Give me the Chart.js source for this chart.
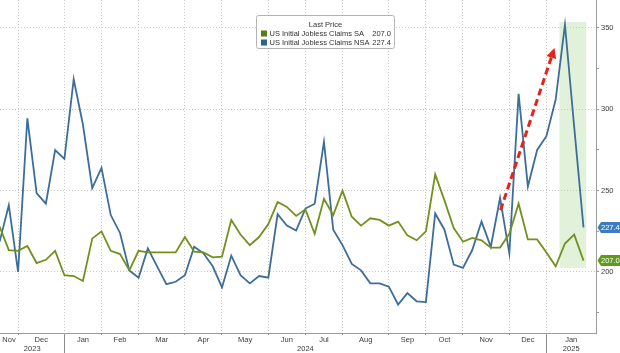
<!DOCTYPE html>
<html>
<head>
<meta charset="utf-8">
<script src="https://cdn.jsdelivr.net/npm/chart.js@4.4.0/dist/chart.umd.min.js"></script>
<style>
  html, body { margin: 0; padding: 0; background: #fff; }
  #wrap { width: 620px; height: 353px; position: relative; }
</style>
</head>
<body>
<div id="wrap"><canvas id="chart"></canvas></div>
<script>
// US initial jobless claims, thousands, weekly
// index 0 = week ending 2023-11-11, index 63 = week ending 2025-01-25
const saClaims = [
  228, 213.5, 213, 216, 205.5, 207.5, 213, 198, 197.5, 194.5,
  220.5, 225, 213, 211, 201, 213, 212, 212, 212, 212,
  221.5, 212.5, 212, 209, 209.5, 232, 223, 216.5, 221.5, 229.5,
  243, 240, 234.5, 238.5, 223.5, 245, 235, 250, 234, 228.5,
  233, 232, 228.5, 231, 222.5, 219.5, 225, 260, 244, 227,
  218.6, 221, 219.5, 215, 215, 223.5, 242, 220, 220, 212,
  203.5, 217.5, 223, 207.0
];
const nsaClaims = [
  218.5, 241, 200, 294.5, 248.5, 242, 275, 269.5, 318.5, 290.5,
  251.5, 264, 235, 224, 201, 196.5, 214.5, 203.5, 192.5, 194,
  198, 215.5, 211.5, 203.5, 190.5, 210, 198, 193, 197.5, 196.5,
  235.5, 228.5, 225.5, 239, 242, 280, 226, 216.5, 205, 201,
  193, 193, 191, 180, 187, 182, 181.5, 236, 226, 204.5,
  202.5, 213.5, 231, 215.5, 245.5, 211.5, 309.5, 252.5, 275, 283.5,
  306, 352, 289, 227.4
];

// first week plotted in each month (gridlines), and the month names between them
const monthTicks = [2, 7, 11, 15, 20, 24, 29, 33, 37, 42, 46, 50, 55, 59];
const monthLabels = ['Nov', 'Dec', 'Jan', 'Feb', 'Mar', 'Apr', 'May', 'Jun',
                     'Jul', 'Aug', 'Sep', 'Oct', 'Nov', 'Dec', 'Jan'];
const yearBreaks = [7, 59];
const yearLabels = ['2023', '2024', '2025'];

const yTicks = [175, 200, 225, 250, 275, 300, 325, 350];

// highlight box on the latest weeks and the arrow over the Dec-Jan climb
const shadeBox = { x1: 60.4, x2: 63.3, y1: 202.5, y2: 353.7 };
const arrowFrom = { x: 54.05, y: 238 };
const arrowTo = { x: 59.87, y: 337.7 };

const X_MIN = 0.05, X_MAX = 64.35;
const Y_MIN = 162.5, Y_MAX = 367.2;

const FONT = '"Liberation Sans", Arial, sans-serif';
const GREEN = '#72901e';
const BLUE = '#3c6e99';

// ------------------------------------------------------------
// x ticks: gridline ticks + label ticks + year ticks
// ------------------------------------------------------------
const bounds = [X_MIN, ...monthTicks, X_MAX];
const yearBounds = [X_MIN, ...yearBreaks, X_MAX];

function buildXTicks() {
    const ticks = [];
    monthTicks.forEach(v => ticks.push({ value: v, kind: 'grid', text: '' }));
    monthLabels.forEach((m, i) => {
        ticks.push({ value: (bounds[i] + bounds[i + 1]) / 2, kind: 'month', text: m });
    });
    yearLabels.forEach((y, i) => {
        ticks.push({ value: (yearBounds[i] + yearBounds[i + 1]) / 2, kind: 'year', text: ['', y] });
    });
    return ticks;
}

const toPoints = arr => arr.map((v, i) => ({ x: i, y: v }));

// ------------------------------------------------------------
// Extras: shaded box, arrow, legend, last value tags
// ------------------------------------------------------------
const extras = {
    id: 'extras',
    beforeDatasetsDraw(chart) {
        const { ctx, scales: { x, y } } = chart;
        const l = x.getPixelForValue(shadeBox.x1), r = x.getPixelForValue(shadeBox.x2);
        const t = y.getPixelForValue(shadeBox.y2), b = y.getPixelForValue(shadeBox.y1);
        ctx.save();
        ctx.fillStyle = 'rgba(168, 214, 150, 0.35)';
        ctx.fillRect(l, t, r - l, b - t);
        ctx.restore();
    },
    afterDatasetsDraw(chart) {
        const { ctx, scales: { x, y } } = chart;
        const x1 = x.getPixelForValue(arrowFrom.x), y1 = y.getPixelForValue(arrowFrom.y);
        const x2 = x.getPixelForValue(arrowTo.x), y2 = y.getPixelForValue(arrowTo.y);
        const ang = Math.atan2(y2 - y1, x2 - x1);
        const headLen = 10, headW = 5;
        const bx = x2 - headLen * Math.cos(ang), by = y2 - headLen * Math.sin(ang);
        ctx.save();
        ctx.strokeStyle = '#e3241b';
        ctx.fillStyle = '#e3241b';
        ctx.lineWidth = 3;
        ctx.setLineDash([7, 4]);
        ctx.beginPath();
        ctx.moveTo(x1, y1);
        ctx.lineTo(bx, by);
        ctx.stroke();
        ctx.setLineDash([]);
        ctx.beginPath();
        ctx.moveTo(x2, y2);
        ctx.lineTo(bx + headW * Math.sin(ang), by - headW * Math.cos(ang));
        ctx.lineTo(bx - headW * Math.sin(ang), by + headW * Math.cos(ang));
        ctx.closePath();
        ctx.fill();
        ctx.restore();
    },
    afterDraw(chart) {
        const { ctx, chartArea, scales: { x, y } } = chart;
        ctx.save();

        // year separators under the axis
        ctx.strokeStyle = '#8c8c8c';
        ctx.lineWidth = 1;
        yearBreaks.forEach(v => {
            const px = Math.round(x.getPixelForValue(v)) + 0.5;
            ctx.beginPath();
            ctx.moveTo(px, chartArea.bottom + 2);
            ctx.lineTo(px, chart.height);
            ctx.stroke();
        });

        // legend box
        const lx = 256.5, ly = 15.5, lw = 138, lh = 33;
        ctx.fillStyle = '#fff';
        ctx.strokeStyle = '#b4b4b4';
        ctx.beginPath();
        ctx.roundRect(lx, ly, lw, lh, 2);
        ctx.fill();
        ctx.stroke();
        ctx.font = '7.5px ' + FONT;
        ctx.fillStyle = '#333';
        ctx.textBaseline = 'middle';
        ctx.textAlign = 'center';
        ctx.fillText('Last Price', lx + lw / 2, 24.5);
        const rows = [
            { label: 'US Initial Jobless Claims SA', data: saClaims, color: '#5a7d12' },
            { label: 'US Initial Jobless Claims NSA', data: nsaClaims, color: '#2f6290' }
        ];
        rows.forEach((r, i) => {
            const ry = 33.5 + i * 9;
            ctx.fillStyle = r.color;
            ctx.fillRect(261, ry - 3, 6, 6);
            ctx.fillStyle = '#333';
            ctx.textAlign = 'left';
            ctx.fillText(r.label, 269.5, ry);
            ctx.textAlign = 'right';
            ctx.fillText(r.data[r.data.length - 1].toFixed(1), 391, ry);
        });

        // last value tags on the right axis
        const tags = [
            { data: nsaClaims, color: '#3f7cbf' },
            { data: saClaims, color: '#5f9b1b' }
        ];
        tags.forEach(t => {
            const v = t.data[t.data.length - 1];
            const py = y.getPixelForValue(v);
            const x0 = chartArea.right + 1.5;
            ctx.fillStyle = t.color;
            ctx.beginPath();
            ctx.moveTo(x0, py);
            ctx.lineTo(x0 + 3.5, py - 5.5);
            ctx.lineTo(chart.width, py - 5.5);
            ctx.lineTo(chart.width, py + 5.5);
            ctx.lineTo(x0 + 3.5, py + 5.5);
            ctx.closePath();
            ctx.fill();
            ctx.fillStyle = '#fff';
            ctx.textAlign = 'left';
            ctx.fillText(v.toFixed(1), x0 + 3.5, py + 0.5);
        });
        ctx.restore();
    }
};

// ------------------------------------------------------------
// Chart
// ------------------------------------------------------------
const chart = new Chart(document.getElementById('chart'), {
    type: 'line',
    data: {
        datasets: [
            {
                label: 'US Initial Jobless Claims SA',
                data: toPoints(saClaims),
                borderColor: GREEN,
                borderWidth: 1.8,
                pointRadius: 0,
                tension: 0
            },
            {
                label: 'US Initial Jobless Claims NSA',
                data: toPoints(nsaClaims),
                borderColor: BLUE,
                borderWidth: 1.8,
                pointRadius: 0,
                tension: 0
            }
        ]
    },
    options: {
        responsive: true,
        maintainAspectRatio: false,
        animation: false,
        layout: { padding: 0 },
        plugins: {
            legend: { display: false },
            tooltip: { enabled: false }
        },
        scales: {
            x: {
                type: 'linear',
                min: X_MIN,
                max: X_MAX,
                afterBuildTicks: scale => { scale.ticks = buildXTicks(); },
                afterFit: scale => {
                    scale.height = 20;
                    scale.paddingLeft = 0;
                    scale.paddingRight = 0;
                },
                ticks: {
                    autoSkip: false,
                    maxRotation: 0,
                    padding: 1,
                    color: '#3c3c3c',
                    font: { family: FONT, size: 7.5, lineHeight: 1.15 },
                    callback: (value, i, ticks) => ticks[i].text
                },
                grid: {
                    color: c => (c.tick && c.tick.kind === 'grid') ? '#c8c8c8' : 'transparent',
                    tickColor: c => (c.tick && c.tick.kind === 'grid') ? '#9a9a9a' : 'transparent',
                    tickLength: 2,
                    lineWidth: 1
                },
                border: { display: true, color: '#9a9a9a', width: 1, dash: [1, 2] }
            },
            y: {
                position: 'right',
                min: Y_MIN,
                max: Y_MAX,
                afterBuildTicks: scale => { scale.ticks = yTicks.map(v => ({ value: v })); },
                afterFit: scale => {
                    scale.width = 24;
                    scale.paddingTop = 0;
                    scale.paddingBottom = 0;
                },
                ticks: {
                    padding: 2,
                    color: '#3c3c3c',
                    font: { family: FONT, size: 7.5 },
                    callback: v => (v % 50 === 0 ? String(v) : '')
                },
                grid: {
                    color: c => (c.tick && c.tick.value % 50 === 0) ? '#c8c8c8' : 'transparent',
                    tickColor: '#9a9a9a',
                    tickLength: 3,
                    lineWidth: 1
                },
                border: { display: true, color: '#9a9a9a', width: 1, dash: [1, 2] }
            }
        }
    },
    plugins: [extras]
});
</script>
</body>
</html>
